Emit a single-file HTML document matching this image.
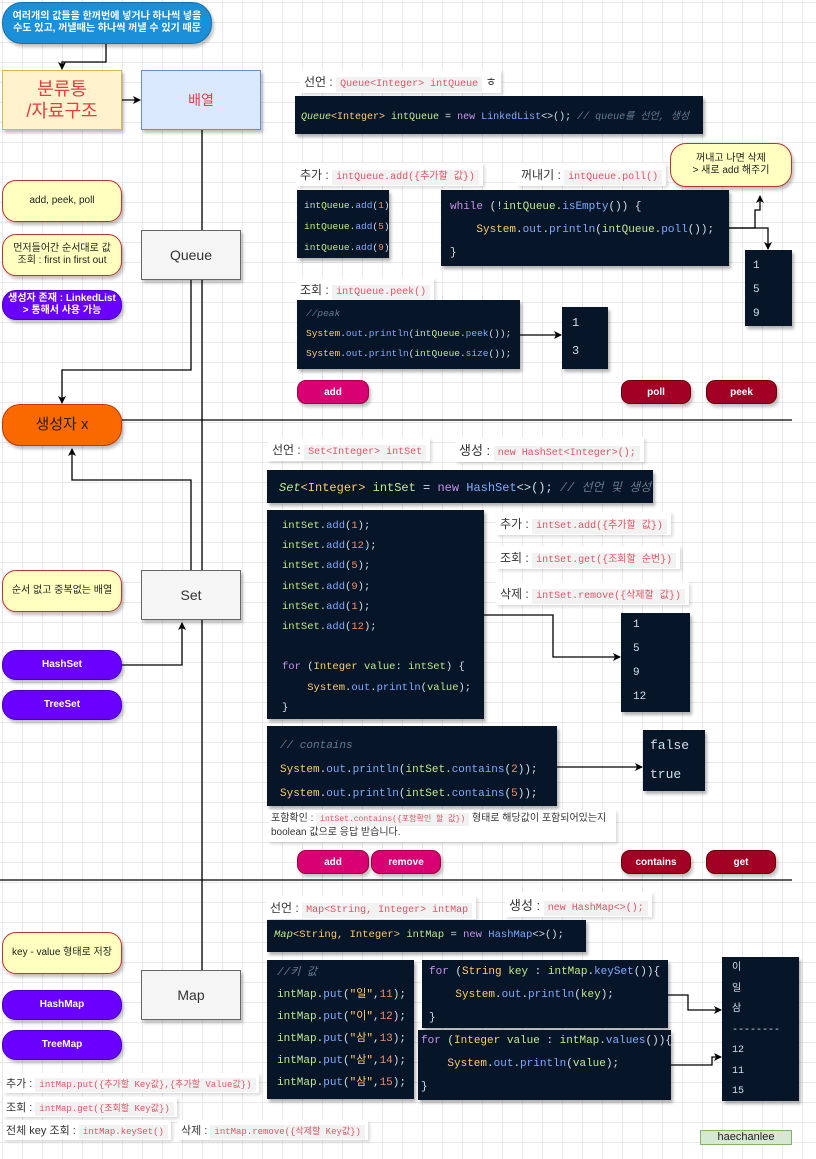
<!DOCTYPE html>
<html><head><meta charset="utf-8"><style>
*{margin:0;padding:0;box-sizing:border-box}
body{width:816px;height:1159px;position:relative;overflow:hidden;background:#fff;
background-image:linear-gradient(#e9e9e9 1px,transparent 1px),linear-gradient(90deg,#e9e9e9 1px,transparent 1px);
background-size:20px 20px;background-position:2px 2px;font-family:"Liberation Sans","Noto Sans CJK KR",sans-serif}
.a{position:absolute}
.pill{position:absolute;border-radius:14px;display:flex;align-items:center;justify-content:center;text-align:center;font-size:10px;line-height:12px;box-shadow:2px 3px 3px rgba(0,0,0,.25)}
.y{background:#ffffc0;border:1px solid #c53030;color:#222}
.p{background:#6a00ff;border:1px solid #4a00c0;color:#fff;font-weight:bold}
.btn{position:absolute;height:24px;border-radius:9px;color:#fff;font-weight:bold;font-size:10px;display:flex;align-items:center;justify-content:center;box-shadow:2px 3px 3px rgba(0,0,0,.25)}
.pk{background:#d80073;border:1px solid #a50040}
.rd{background:#a20025;border:1px solid #6f0000}
.box{position:absolute;background:#f5f5f5;border:1px solid #666;display:flex;align-items:center;justify-content:center;font-size:14px;color:#333;box-shadow:2px 3px 3px rgba(0,0,0,.25)}
.code{position:absolute;background:#061628;color:#c3e88d;font-family:"Liberation Mono","Noto Sans CJK KR",monospace;font-size:11px;box-shadow:2px 3px 3px rgba(0,0,0,.3);white-space:pre;overflow:hidden}
.lab{position:absolute;background:#fff;font-size:12px;color:#333;padding:3px 4px;box-shadow:2px 2px 3px rgba(0,0,0,.15);white-space:nowrap}
.lab code{font-family:"Liberation Mono","Noto Sans CJK KR",monospace;font-size:10px;color:#e05565;background:#f2f2f2;padding:2px 4px}
.m{color:#82aaff}.n{color:#f78c6c}.k{color:#c792ea}.s{color:#ffcb6b}.c{color:#697a8c;font-style:italic}.w{color:#d6deeb}.g{color:#c3e88d}
</style></head><body>
<svg class="a" style="left:0;top:0" width="816" height="1159">
<defs><marker id="ar" markerWidth="8" markerHeight="8" refX="7" refY="4" orient="auto" markerUnits="userSpaceOnUse"><path d="M0,0 L8,4 L0,8 L2,4z" fill="#000"/></marker></defs>
<g fill="none" stroke="#000" stroke-width="1.3">
<path d="M106,44 V62 H62 V69" marker-end="url(#ar)"/>
<path d="M122,100 H140" marker-end="url(#ar)"/>
<path d="M202,130 V970"/>
<path d="M191,280 V370 H62 V403" marker-end="url(#ar)"/>
<path d="M122,420 H792"/>
<path d="M0,880 H792"/>
<path d="M729,228 H755 V210 H760 V196" marker-end="url(#ar)"/>
<path d="M729,228 H768 V249" marker-end="url(#ar)"/>
<path d="M520,335 H561" marker-end="url(#ar)"/>
<path d="M191,570 V480 H72 V449" marker-end="url(#ar)"/>
<path d="M122,665 H182 V623" marker-end="url(#ar)"/>
<path d="M484,615 H553 V657 H620" marker-end="url(#ar)"/>
<path d="M557,767 H642" marker-end="url(#ar)"/>
<path d="M668,995 H688 V1010 H721" marker-end="url(#ar)"/>
<path d="M671,1065 H712 V1057 H721" marker-end="url(#ar)"/>
</g></svg>

<div class="pill" style="left:2px;top:2px;width:210px;height:42px;border-radius:20px;background:#1b8fd8;border:1px solid #1070b0;color:#fff;font-weight:bold;font-size:10px">여러개의 값들을 한꺼번에 넣거나 하나씩 넣을<br>수도 있고, 꺼낼때는 하나씩 꺼낼 수 있기 때문</div>
<div class="a" style="left:2px;top:70px;width:120px;height:60px;background:#fff2cc;border:1px solid #d6b656;color:#e04040;font-size:18px;line-height:22px;text-align:center;padding-top:7px;box-shadow:2px 3px 3px rgba(0,0,0,.25)">분류통<br>/자료구조</div>
<div class="a" style="left:141px;top:70px;width:120px;height:60px;background:#dae8fc;border:1px solid #6c8ebf;color:#e04040;font-size:14px;display:flex;align-items:center;justify-content:center;box-shadow:2px 3px 3px rgba(0,0,0,.25)">배열</div>

<div class="pill y" style="left:2px;top:180px;width:120px;height:42px">add, peek, poll</div>
<div class="pill y" style="left:2px;top:234px;width:120px;height:42px">먼저들어간 순서대로 값<br>조회 : first in first out</div>
<div class="pill p" style="left:2px;top:290px;width:120px;height:30px">생성자 존재 : LinkedList<br>&gt; 통해서 사용 가능</div>
<div class="box" style="left:141px;top:230px;width:100px;height:50px">Queue</div>
<div class="pill" style="left:2px;top:404px;width:120px;height:42px;border-radius:18px;background:#fa6800;border:1px solid #c73500;color:#222;font-size:15px">생성자 x</div>

<div class="lab" style="left:300px;top:70px">선언 : <code>Queue&lt;Integer&gt; intQueue</code> ㅎ</div>
<div class="code" style="left:295px;top:96px;width:408px;height:38px;padding:11px 6px;font-size:10px"><i class="g">Queue</i><span class="s">&lt;Integer&gt;</span> intQueue <span class="w">=</span> <span class="k">new</span> <span class="m">LinkedList</span><span class="w">&lt;&gt;();</span> <span class="c">// queue를 선언, 생성</span></div>

<div class="lab" style="left:296px;top:163px">추가 : <code>intQueue.add({추가할 값})</code></div>
<div class="code" style="left:297px;top:190px;width:92px;height:68px;padding:5px 7px;line-height:21px;font-size:9.5px">intQueue.<span class="m">add</span><span class="w">(</span><span class="n">1</span><span class="w">);</span>
intQueue.<span class="m">add</span><span class="w">(</span><span class="n">5</span><span class="w">);</span>
intQueue.<span class="m">add</span><span class="w">(</span><span class="n">9</span><span class="w">);</span></div>
<div class="lab" style="left:517px;top:163px">꺼내기 : <code>intQueue.poll()</code></div>
<div class="code" style="left:441px;top:190px;width:288px;height:76px;padding:6px 9px;line-height:23px;font-size:11px"><span class="k">while</span> <span class="w">(!</span>intQueue.<span class="m">isEmpty</span><span class="w">()) {</span>
    <span class="s">System</span><span class="w">.</span><span class="m">out</span><span class="w">.</span><span class="m">println</span><span class="w">(</span>intQueue.<span class="m">poll</span><span class="w">());</span>
<span class="w">}</span></div>
<div class="pill y" style="left:670px;top:143px;width:122px;height:44px;border-radius:16px;font-size:10px">꺼내고 나면 삭제<br>&gt; 새로 add 해주기</div>
<div class="code w" style="left:745px;top:250px;width:47px;height:76px;padding:4px 8px;line-height:24px;font-size:11px;color:#d6deeb">1
5
9</div>

<div class="lab" style="left:296px;top:278px">조회 : <code>intQueue.peek()</code></div>
<div class="code" style="left:297px;top:300px;width:223px;height:69px;padding:4px 9px;line-height:20px;font-size:9.5px"><span class="c">//peak</span>
<span class="s">System</span><span class="w">.</span><span class="m">out</span><span class="w">.</span><span class="m">println</span><span class="w">(</span>intQueue.<span class="m">peek</span><span class="w">());</span>
<span class="s">System</span><span class="w">.</span><span class="m">out</span><span class="w">.</span><span class="m">println</span><span class="w">(</span>intQueue.<span class="m">size</span><span class="w">());</span></div>
<div class="code" style="left:562px;top:307px;width:46px;height:62px;padding:2px 10px;line-height:28px;font-size:12px;color:#d6deeb">1
3</div>
<div class="btn pk" style="left:297px;top:380px;width:72px">add</div>
<div class="btn rd" style="left:621px;top:380px;width:70px">poll</div>
<div class="btn rd" style="left:706px;top:380px;width:71px">peek</div>

<!-- Set -->
<div class="lab" style="left:268px;top:438px">선언 : <code>Set&lt;Integer&gt; intSet</code></div>
<div class="lab" style="left:455px;top:437px;font-size:13px">생성 : <code>new HashSet&lt;Integer&gt;();</code></div>
<div class="code" style="left:267px;top:470px;width:386px;height:33px;padding:8px 12px;font-size:12px"><i class="g">Set</i><span class="s">&lt;Integer&gt;</span> intSet <span class="w">=</span> <span class="k">new</span> <span class="m">HashSet</span><span class="w">&lt;&gt;();</span> <span class="c">// 선언 및 생성</span></div>
<div class="code" style="left:267px;top:510px;width:217px;height:209px;padding:6px 15px;line-height:20.2px;font-size:10.5px">intSet.<span class="m">add</span><span class="w">(</span><span class="n">1</span><span class="w">);</span>
intSet.<span class="m">add</span><span class="w">(</span><span class="n">12</span><span class="w">);</span>
intSet.<span class="m">add</span><span class="w">(</span><span class="n">5</span><span class="w">);</span>
intSet.<span class="m">add</span><span class="w">(</span><span class="n">9</span><span class="w">);</span>
intSet.<span class="m">add</span><span class="w">(</span><span class="n">1</span><span class="w">);</span>
intSet.<span class="m">add</span><span class="w">(</span><span class="n">12</span><span class="w">);</span>

<span class="k">for</span> <span class="w">(</span><span class="s">Integer</span> value<span class="w">:</span> intSet<span class="w">) {</span>
    <span class="s">System</span><span class="w">.</span><span class="m">out</span><span class="w">.</span><span class="m">println</span><span class="w">(</span>value<span class="w">);</span>
<span class="w">}</span></div>
<div class="lab" style="left:496px;top:512px">추가 : <code>intSet.add({추가할 값})</code></div>
<div class="lab" style="left:496px;top:546px">조회 : <code>intSet.get({조회할 순번})</code></div>
<div class="lab" style="left:496px;top:582px">삭제 : <code>intSet.remove({삭제할 값})</code></div>
<div class="code" style="left:621px;top:613px;width:69px;height:99px;padding:0px 12px;line-height:24px;font-size:11px;color:#d6deeb">1
5
9
12</div>
<div class="box" style="left:141px;top:570px;width:100px;height:50px">Set</div>
<div class="pill y" style="left:2px;top:570px;width:120px;height:42px">순서 없고 중복없는 배열</div>
<div class="pill p" style="left:2px;top:650px;width:120px;height:30px">HashSet</div>
<div class="pill p" style="left:2px;top:690px;width:120px;height:30px">TreeSet</div>
<div class="code" style="left:267px;top:726px;width:290px;height:80px;padding:8px 13px;line-height:24px;font-size:11px"><span class="c">// contains</span>
<span class="s">System</span><span class="w">.</span><span class="m">out</span><span class="w">.</span><span class="m">println</span><span class="w">(</span>intSet.<span class="m">contains</span><span class="w">(</span><span class="n">2</span><span class="w">));</span>
<span class="s">System</span><span class="w">.</span><span class="m">out</span><span class="w">.</span><span class="m">println</span><span class="w">(</span>intSet.<span class="m">contains</span><span class="w">(</span><span class="n">5</span><span class="w">));</span></div>
<div class="code" style="left:643px;top:730px;width:62px;height:61px;padding:1px 7px;line-height:29px;font-size:13px;color:#d6deeb">false
true</div>
<div class="lab" style="left:268px;top:810px;width:348px;height:32px;font-size:10px;line-height:13px;padding:2px 3px">포함확인 : <code style="font-size:8px">intSet.contains({포함확인 할 값})</code> 형태로 해당값이 포함되어있는지<br>boolean 값으로 응답 받습니다.</div>
<div class="btn pk" style="left:297px;top:850px;width:72px">add</div>
<div class="btn pk" style="left:371px;top:850px;width:70px">remove</div>
<div class="btn rd" style="left:621px;top:850px;width:70px">contains</div>
<div class="btn rd" style="left:706px;top:850px;width:70px">get</div>

<!-- Map -->
<div class="lab" style="left:266px;top:896px">선언 : <code>Map&lt;String, Integer&gt; intMap</code></div>
<div class="lab" style="left:505px;top:892px;font-size:13px">생성 : <code>new  HashMap&lt;&gt;();</code></div>
<div class="code" style="left:267px;top:920px;width:319px;height:32px;padding:9px 7px;font-size:10.5px"><i class="g">Map</i><span class="s">&lt;String, Integer&gt;</span> intMap <span class="w">=</span> <span class="k">new</span> <span class="m">HashMap</span><span class="w">&lt;&gt;();</span></div>
<div class="code" style="left:267px;top:960px;width:147px;height:139px;padding:2px 10px;line-height:22px;font-size:11px"><span class="c">//키 값</span>
intMap.<span class="m">put</span><span class="w">(</span><span class="s">"일"</span><span class="w">,</span><span class="n">11</span><span class="w">);</span>
intMap.<span class="m">put</span><span class="w">(</span><span class="s">"이"</span><span class="w">,</span><span class="n">12</span><span class="w">);</span>
intMap.<span class="m">put</span><span class="w">(</span><span class="s">"삼"</span><span class="w">,</span><span class="n">13</span><span class="w">);</span>
intMap.<span class="m">put</span><span class="w">(</span><span class="s">"삼"</span><span class="w">,</span><span class="n">14</span><span class="w">);</span>
intMap.<span class="m">put</span><span class="w">(</span><span class="s">"삼"</span><span class="w">,</span><span class="n">15</span><span class="w">);</span></div>
<div class="code" style="left:422px;top:960px;width:246px;height:68px;padding:1px 7px;line-height:23px;font-size:11px"><span class="k">for</span> <span class="w">(</span><span class="s">String</span> key <span class="w">:</span> intMap.<span class="m">keySet</span><span class="w">(</span><span class="w">)){</span>
    <span class="s">System</span><span class="w">.</span><span class="m">out</span><span class="w">.</span><span class="m">println</span><span class="w">(</span>key<span class="w">);</span>
<span class="w">}</span></div>
<div class="code" style="left:418px;top:1030px;width:253px;height:70px;padding:0px 3px;line-height:23px;font-size:11px"><span class="k">for</span> <span class="w">(</span><span class="s">Integer</span> value <span class="w">:</span> intMap.<span class="m">values</span><span class="w">()){</span>
    <span class="s">System</span><span class="w">.</span><span class="m">out</span><span class="w">.</span><span class="m">println</span><span class="w">(</span>value<span class="w">);</span>
<span class="w">}</span></div>
<div class="code" style="left:722px;top:957px;width:77px;height:144px;padding:2px 10px;line-height:20.5px;font-size:10px;color:#d6deeb">이
일
삼
--------
12
11
15</div>
<div class="box" style="left:141px;top:970px;width:100px;height:50px">Map</div>
<div class="pill y" style="left:2px;top:932px;width:120px;height:42px">key - value 형태로 저장</div>
<div class="pill p" style="left:2px;top:990px;width:120px;height:30px">HashMap</div>
<div class="pill p" style="left:2px;top:1030px;width:120px;height:30px">TreeMap</div>
<div class="lab" style="left:3px;top:1073px;font-size:11px;padding:2px 3px">추가 : <code style="font-size:9px">intMap.put({추가할 Key값},{추가할 Value값})</code></div>
<div class="lab" style="left:3px;top:1097px;font-size:11px;padding:2px 3px">조회 : <code style="font-size:9px">intMap.get({조회할 Key값})</code></div>
<div class="lab" style="left:3px;top:1120px;font-size:11px;padding:2px 3px">전체 key 조회 : <code style="font-size:9px">intMap.keySet()</code></div>
<div class="lab" style="left:178px;top:1120px;font-size:11px;padding:2px 3px">삭제 : <code style="font-size:9px">intMap.remove({삭제할 Key값})</code></div>
<div class="a" style="left:700px;top:1130px;width:92px;height:15px;background:#d5e8d4;border:1px solid #82b366;font-size:11px;text-align:center;line-height:13px;color:#222">haechanlee</div>
</body></html>
